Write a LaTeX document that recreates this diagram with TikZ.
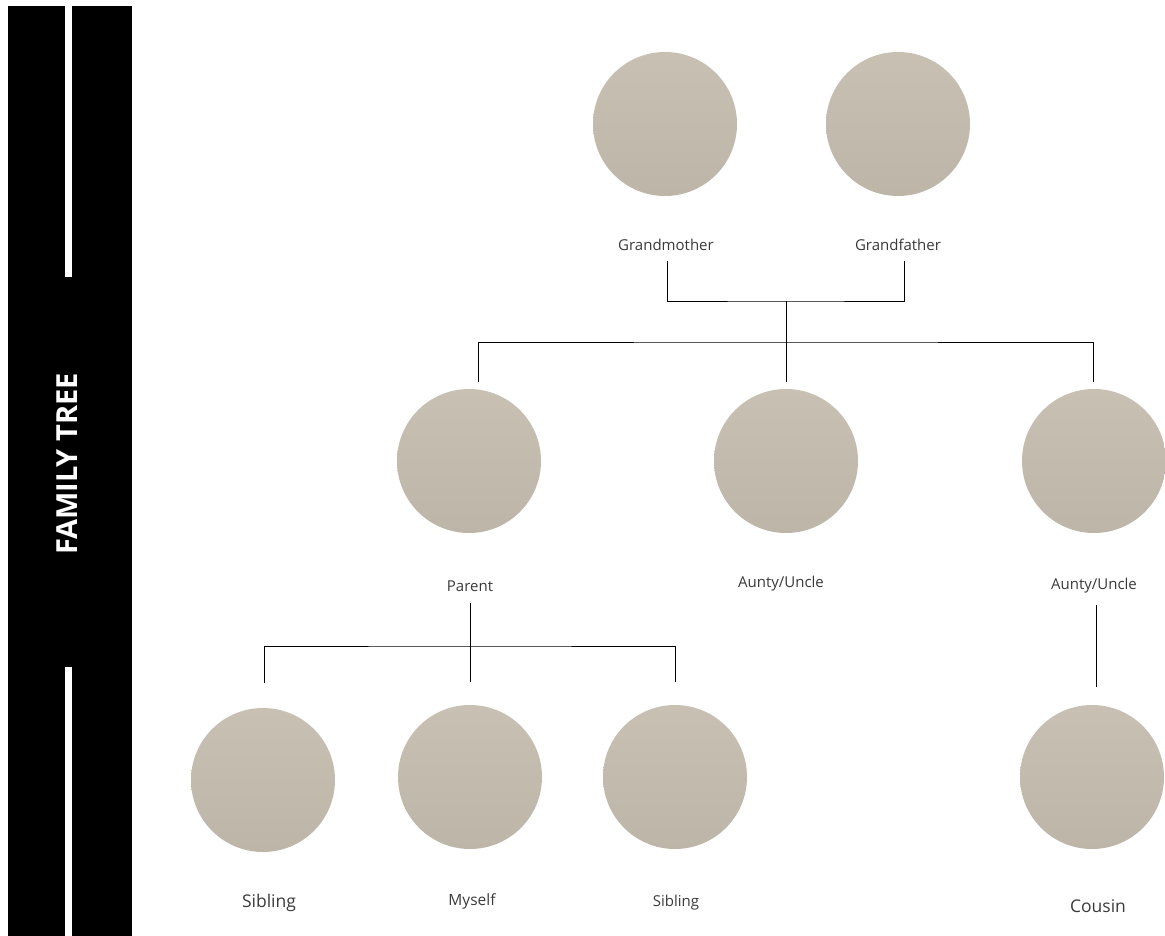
\documentclass[tikz,border=0pt]{standalone}
\usepackage{fontspec}
\setmainfont{Open Sans}
\usepackage{tikz}
\usetikzlibrary{positioning,calc}
\usepackage{xcolor}
\definecolor{stonetop}{HTML}{C8C0B3}
\definecolor{stonebot}{HTML}{BDB5A8}
\definecolor{labelgray}{HTML}{3A3A3A}

\tikzset{
  person/.style={circle, inner sep=0pt, minimum size=144pt, top color=stonetop, bottom color=stonebot, draw=none},
  personlabel/.style={text=labelgray, inner sep=1pt, font=\fontsize{15}{18}\selectfont},
  biglabel/.style={personlabel, font=\fontsize{17.5}{21}\selectfont},
  link/.style={draw=black, line width=0.95pt}
}

\begin{document}
\begin{tikzpicture}[x=1pt, y=-1pt]
  \useasboundingbox (0,0) rectangle (1165,936);

  % side banner
  \fill[black] (8,6) rectangle (132,936);
  \fill[white] (65,6) rectangle (72,277);
  \fill[white] (65,667) rectangle (72,936);
  \node[rotate=90, text=white, font=\fontsize{29}{34}\selectfont\bfseries] (banner) at (67,464) {FAMILY TREE};

  % grandparents
  \node[person] (gma) at (665,124) {};
  \node[person] (gpa) at (898,124) {};
  \node[personlabel] (gmatxt) at (666,245) {Grandmother};
  \node[personlabel] (gpatxt) at (898,245) {Grandfather};

  % parents generation
  \node[person] (par) at (469,461) {};
  \node[person] (au1) at (786,461) {};
  \node[person] (au2) at (1094,461) {};
  \node[personlabel] (partxt) at (470,586) {Parent};
  \node[personlabel] (au1txt) at (781,584) {Aunty/Uncle};
  \node[personlabel] (au2txt) at (1094,586) {Aunty/Uncle};

  % children
  \node[person] (sib1) at (263,780) {};
  \node[person] (me) at (470,777) {};
  \node[person] (sib2) at (675,777) {};
  \node[person] (cou) at (1092,777) {};
  \node[biglabel] (sib1txt) at (269,903) {Sibling};
  \node[personlabel, font=\fontsize{15.5}{19}\selectfont] (metxt) at (472,901) {Myself};
  \node[personlabel] (sib2txt) at (676,903) {Sibling};
  \node[biglabel] (coutxt) at (1098,906) {Cousin};

  % joins
  \coordinate (gjoin) at (786,301);
  \coordinate (mbar) at (786,342);
  \coordinate (cbar) at (470,646);

  \draw[link] ([xshift=1pt,yshift=-9pt]gmatxt.south) |- (gjoin) -| ([xshift=6pt,yshift=-9pt]gpatxt.south);
  \draw[link] (gjoin) -- ([yshift=7pt]au1.north);
  \draw[link] ([xshift=9pt,yshift=7pt]par.north) |- (mbar) -| ([xshift=-1pt,yshift=7pt]au2.north);
  \draw[link] ([yshift=-10pt]partxt.south) -- (cbar);
  \draw[link] ([xshift=1pt,yshift=25pt]sib1.north) |- (cbar) -| ([yshift=23pt]sib2.north);
  \draw[link] (cbar) -- ([yshift=23pt]me.north);
  \draw[link] ([xshift=2pt,yshift=-10pt]au2txt.south) -- ([xshift=4pt,yshift=18pt]cou.north);
\end{tikzpicture}
\end{document}
